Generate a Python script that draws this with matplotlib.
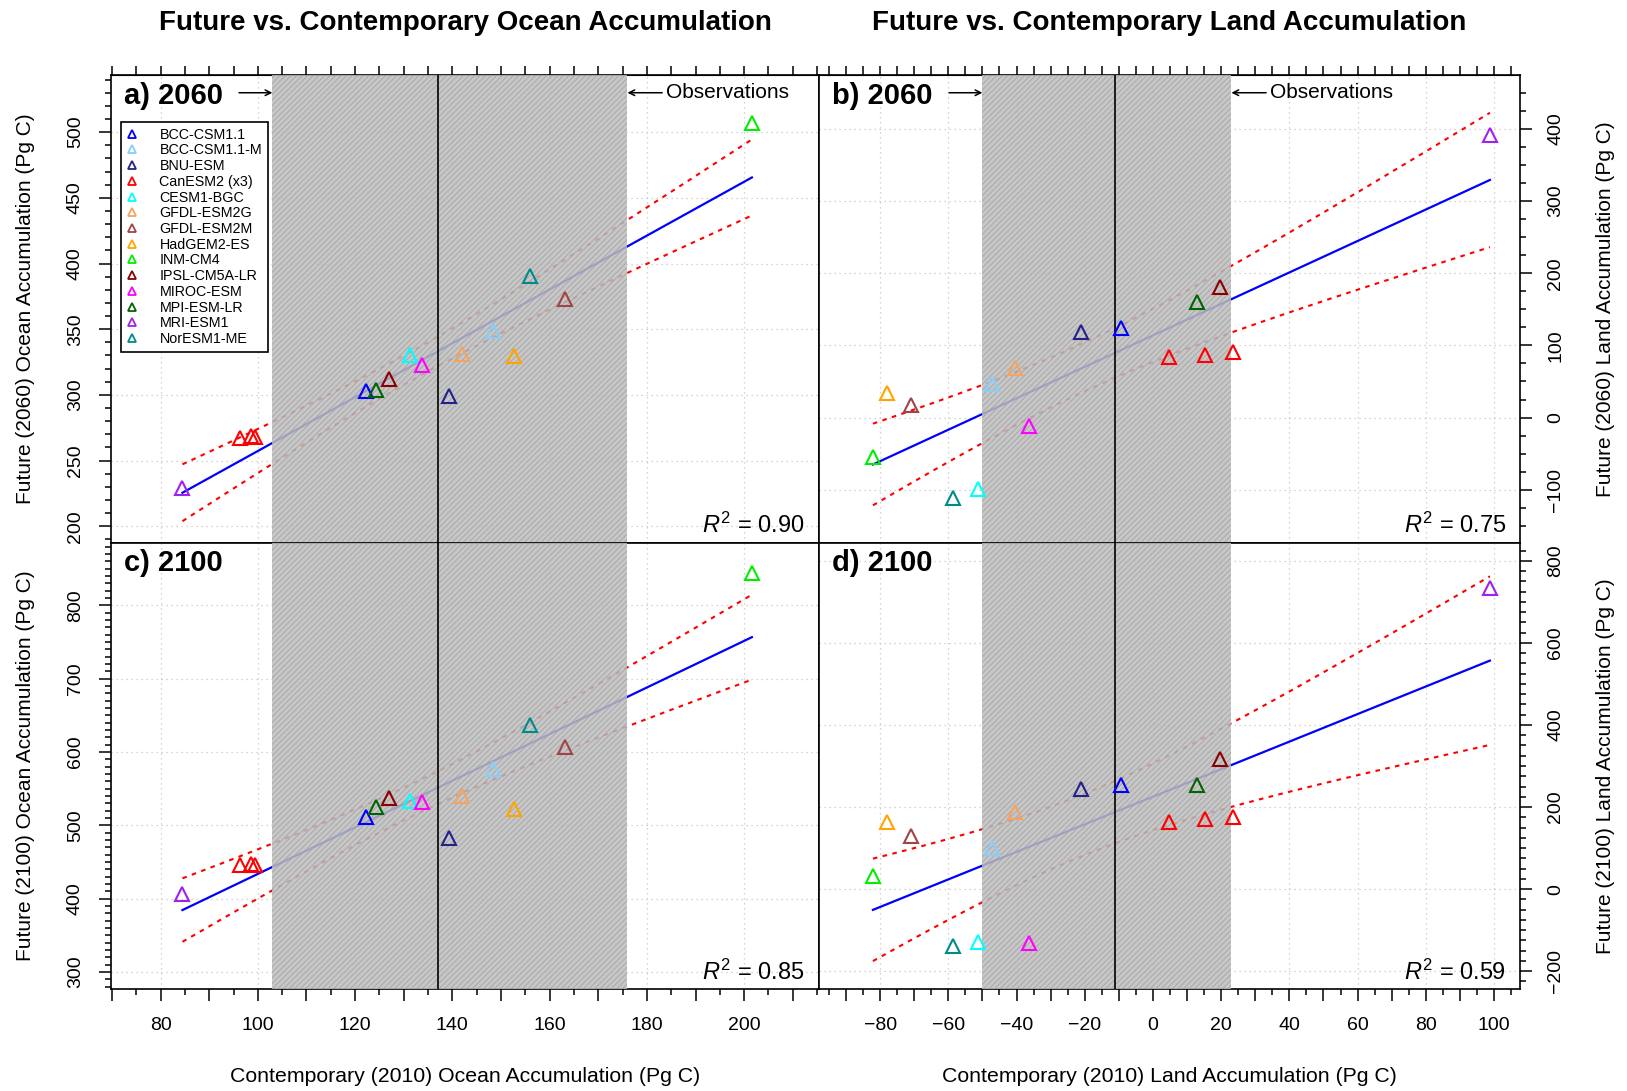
import numpy as np
import matplotlib
matplotlib.use("Agg")
import matplotlib.pyplot as plt
from matplotlib.lines import Line2D
from matplotlib.ticker import MultipleLocator, FuncFormatter
from matplotlib.transforms import blended_transform_factory

plt.rcParams['font.family'] = ['Liberation Sans', 'DejaVu Sans']
plt.rcParams['mathtext.fontset'] = 'custom'
plt.rcParams['mathtext.rm'] = 'Liberation Sans'
plt.rcParams['mathtext.it'] = 'Liberation Sans:italic'
plt.rcParams['hatch.linewidth'] = 0.6

# ESM names and plot colours (legend order)
models = ["BCC-CSM1.1", "BCC-CSM1.1-M", "BNU-ESM", "CanESM2 (x3)", "CESM1-BGC",
          "GFDL-ESM2G", "GFDL-ESM2M", "HadGEM2-ES", "INM-CM4", "IPSL-CM5A-LR",
          "MIROC-ESM", "MPI-ESM-LR", "MRI-ESM1", "NorESM1-ME"]
colors = ["#0000FF", "#87CEFA", "#22228A", "#FF0000", "#00FFFF",
          "#F4A460", "#A04545", "#FFA500", "#00EE00", "#8B0000",
          "#FF00FF", "#006400", "#A020F0", "#008B8B"]

# one entry per model run (CanESM2 has three ensemble members)
run_model = [0, 1, 2, 3, 3, 3, 4, 5, 6, 7, 8, 9, 10, 11, 12, 13]

ocean_2010 = [122.2, 148.4, 139.3, 96.4, 98.5, 99.4, 131.3, 141.9,
              163.2, 152.6, 201.6, 126.9, 133.7, 124.2, 84.5, 156.0]
ocean_2060 = [303.0, 348.6, 299.0, 267.0, 268.5, 268.0, 330.0, 331.0,
              372.7, 329.6, 507.0, 312.0, 323.0, 303.8, 229.0, 390.4]
ocean_2100 = [511.0, 576.6, 482.7, 446.0, 447.0, 446.0, 532.8, 540.0,
              607.3, 523.0, 844.0, 537.7, 532.0, 525.0, 406.3, 636.5]

land_2010 = [-9.4, -47.3, -21.1, 4.8, 15.2, 23.6, -51.2, -40.3,
             -70.9, -77.9, -82.1, 19.7, -36.4, 13.0, 98.8, -58.6]
land_2060 = [124.0, 47.0, 118.0, 84.0, 86.6, 90.8, -99.0, 68.7,
             17.0, 33.6, -55.0, 181.0, -11.5, 160.0, 391.7, -112.0]
land_2100 = [254.0, 100.0, 243.5, 162.6, 169.6, 175.7, -128.7, 188.7,
             128.7, 162.6, 33.0, 317.0, -130.4, 254.0, 734.8, -139.0]

# observational estimates for 2010 (best estimate and range)
obs_ocean = 137.0
obs_ocean_range = (103.0, 176.0)
obs_land = -11.0
obs_land_range = (-50.0, 23.0)

r2_text = ["0.90", "0.75", "0.85", "0.59"]

T_CRIT = 2.145  # Student t, 0.975 quantile, 14 degrees of freedom


def fit_with_ci(x, y):
    slope, icpt = np.polyfit(x, y, 1)
    xs = np.linspace(x.min(), x.max(), 200)
    yhat = icpt + slope * xs
    resid = y - (icpt + slope * x)
    n = len(x)
    s = np.sqrt(np.sum(resid ** 2) / (n - 2))
    se = s * np.sqrt(1.0 / n + (xs - x.mean()) ** 2 / np.sum((x - x.mean()) ** 2))
    return xs, yhat, yhat - T_CRIT * se, yhat + T_CRIT * se


def minus(v):
    return ('%d' % v).replace('-', '\u2212')


def draw_panel(ax, x, y, xlim, ylim, obs, obs_rng, tag, r2, xgrid, ymajor, yminor,
               top_row, right_side):
    x = np.asarray(x)
    y = np.asarray(y)
    ax.set_xlim(*xlim)
    ax.set_ylim(*ylim)

    # dotted grid at labelled values
    for gx in xgrid:
        ax.axvline(gx, color='0.78', lw=0.9, ls=(0, (1, 3)), zorder=1)
    for gy in np.arange(np.ceil(ylim[0] / ymajor) * ymajor, ylim[1], ymajor):
        ax.axhline(gy, color='0.78', lw=0.9, ls=(0, (1, 3)), zorder=1)

    xs, yhat, lo, hi = fit_with_ci(x, y)
    ax.plot(xs, yhat, color='#0000FF', lw=1.6, zorder=2)
    ax.plot(xs, lo, color='#FF0000', lw=1.5, ls=(0, (2.2, 2.6)), zorder=2)
    ax.plot(xs, hi, color='#FF0000', lw=1.5, ls=(0, (2.2, 2.6)), zorder=2)

    ax.axvspan(obs_rng[0], obs_rng[1], facecolor='#BEBEBE', edgecolor='#9E9E9E',
               hatch='//////', lw=0, alpha=0.85, zorder=3)
    ax.axvline(obs, color='black', lw=1.2, zorder=4)

    for xi, yi, m in zip(x, y, run_model):
        ax.plot(xi, yi, marker='^', ms=10, mfc='none', mec=colors[m], mew=1.5,
                ls='none', zorder=5)

    ax.text(0.019, 0.955, tag, transform=ax.transAxes, fontsize=21,
            fontweight='bold', ha='left', va='center', zorder=6)
    ax.text(0.98, 0.037, r'$R^2$ = ' + r2, transform=ax.transAxes, fontsize=17,
            ha='right', va='center', zorder=6)

    trans = blended_transform_factory(ax.transData, ax.transAxes)
    if top_row:
        ax.annotate('', xy=(obs_rng[0], 0.962), xycoords=trans, xytext=(-24, 0),
                    textcoords='offset points',
                    arrowprops=dict(arrowstyle='->', lw=1.1, color='black',
                                    shrinkA=0, shrinkB=0))
        ax.annotate('', xy=(obs_rng[1], 0.962), xycoords=trans, xytext=(25, 0),
                    textcoords='offset points',
                    arrowprops=dict(arrowstyle='->', lw=1.1, color='black',
                                    shrinkA=0, shrinkB=0))
        ax.annotate('Observations', xy=(obs_rng[1], 0.962), xycoords=trans,
                    xytext=(28, 0), textcoords='offset points', fontsize=15,
                    ha='left', va='center')

    # ticks: long every 10, short every 5, labels every 20
    ax.xaxis.set_major_locator(MultipleLocator(10))
    ax.xaxis.set_minor_locator(MultipleLocator(5))
    ax.xaxis.set_major_formatter(FuncFormatter(
        lambda v, p: minus(v) if round(v) % 20 == 0 else ''))
    ax.yaxis.set_major_locator(MultipleLocator(ymajor))
    ax.yaxis.set_minor_locator(MultipleLocator(yminor))
    ax.yaxis.set_major_formatter(FuncFormatter(lambda v, p: minus(v)))

    ax.tick_params(axis='both', which='major', direction='out', length=8.5,
                   width=1.1, labelsize=14)
    ax.tick_params(axis='both', which='minor', direction='out', length=4.5,
                   width=1.1)
    ax.tick_params(axis='x', which='both', pad=12)
    ax.tick_params(axis='y', which='major', pad=11, labelrotation=90)
    if top_row:
        ax.tick_params(axis='x', which='both', bottom=False, labelbottom=False)
        sec = ax.secondary_xaxis('top')
        sec.xaxis.set_major_locator(MultipleLocator(5))
        sec.tick_params(direction='out', length=6.5, width=1.1, labeltop=False)
    if right_side:
        ax.yaxis.tick_right()
        ax.yaxis.set_label_position('right')
        ax.tick_params(axis='y', which='both', left=False)
    for lab in ax.get_yticklabels():
        lab.set_va('center')
    for sp in ax.spines.values():
        sp.set_linewidth(1.2)


fig = plt.figure(figsize=(16.27, 10.91), dpi=100)
ax_a = fig.add_axes([0.0682, 0.5023, 0.4352, 0.4290])
ax_b = fig.add_axes([0.5034, 0.5023, 0.4308, 0.4290])
ax_c = fig.add_axes([0.0682, 0.0935, 0.4352, 0.4088])
ax_d = fig.add_axes([0.5034, 0.0935, 0.4308, 0.4088])

ocean_xlim = (69.8, 215.4)
land_xlim = (-97.9, 107.6)
ocean_grid = np.arange(80, 201, 20)
land_grid = np.arange(-80, 101, 20)

draw_panel(ax_a, ocean_2010, ocean_2060, ocean_xlim, (187.3, 543.5), obs_ocean,
           obs_ocean_range, 'a) 2060', r2_text[0], ocean_grid, 50, 10, True, False)
draw_panel(ax_b, land_2010, land_2060, land_xlim, (-173.7, 474.6), obs_land,
           obs_land_range, 'b) 2060', r2_text[1], land_grid, 100, 25, True, True)
draw_panel(ax_c, ocean_2010, ocean_2100, ocean_xlim, (277.0, 885.0), obs_ocean,
           obs_ocean_range, 'c) 2100', r2_text[2], ocean_grid, 100, 10, False, False)
draw_panel(ax_d, land_2010, land_2100, land_xlim, (-243.5, 843.5), obs_land,
           obs_land_range, 'd) 2100', r2_text[3], land_grid, 200, 25, False, True)

ax_a.set_ylabel('Future (2060) Ocean Accumulation (Pg C)', fontsize=15)
ax_c.set_ylabel('Future (2100) Ocean Accumulation (Pg C)', fontsize=15)
ax_b.set_ylabel('Future (2060) Land Accumulation (Pg C)', fontsize=15)
ax_d.set_ylabel('Future (2100) Land Accumulation (Pg C)', fontsize=15)
ax_a.yaxis.set_label_coords(-0.107, 0.5)
ax_c.yaxis.set_label_coords(-0.107, 0.5)
ax_b.yaxis.set_label_coords(1.108, 0.5)
ax_d.yaxis.set_label_coords(1.108, 0.5)

ax_c.set_xlabel('Contemporary (2010) Ocean Accumulation (Pg C)', fontsize=15.3)
ax_d.set_xlabel('Contemporary (2010) Land Accumulation (Pg C)', fontsize=15.3)
ax_c.xaxis.set_label_coords(0.5, -0.175)
ax_d.xaxis.set_label_coords(0.5, -0.175)

fig.text(465 / 1627, 1 - 23 / 1091, 'Future vs. Contemporary Ocean Accumulation',
         fontsize=20, fontweight='bold', ha='center', va='center')
fig.text(1169 / 1627, 1 - 23 / 1091, 'Future vs. Contemporary Land Accumulation',
         fontsize=20, fontweight='bold', ha='center', va='center')

handles = [Line2D([], [], marker='^', ls='none', ms=5.5, mfc='none', mec=c, mew=1.3)
           for c in colors]
leg = ax_a.legend(handles, models, loc='upper left', bbox_to_anchor=(0.014, 0.8996),
                  borderaxespad=0, fontsize=10.3, frameon=True, fancybox=False,
                  framealpha=1, edgecolor='black', handlelength=0.8,
                  handletextpad=1.5, labelspacing=0.12, borderpad=0.4)
leg.get_frame().set_linewidth(1.2)
leg.set_zorder(7)

fig.savefig('out.png', dpi=100)
